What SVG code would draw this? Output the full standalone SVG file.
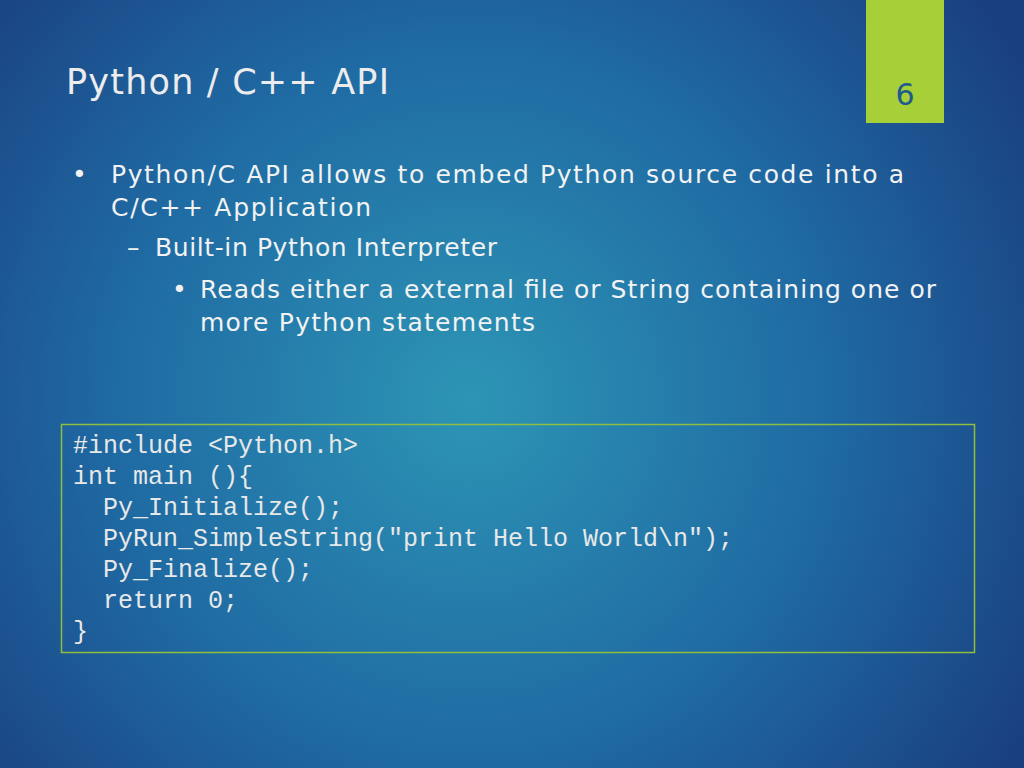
<svg xmlns="http://www.w3.org/2000/svg" width="1024" height="768" viewBox="0 0 1024 768">
<defs>
<radialGradient id="bg" cx="470" cy="400" r="650" gradientUnits="userSpaceOnUse">
<stop offset="0" stop-color="#2d95b5"/>
<stop offset="0.55" stop-color="#1f6aa3"/>
<stop offset="1" stop-color="#1a3f80"/>
</radialGradient>
<style>
.t{font-family:"DejaVu Sans","Liberation Sans",sans-serif;fill:#f2f2f2;font-size:25px}
.c{font-family:"Liberation Mono","Courier New",monospace;fill:#e8e8e8;font-size:25px}
</style>
</defs>
<rect width="1024" height="768" fill="url(#bg)"/>
<rect x="866" y="0" width="78" height="123" fill="#a6cf38"/>
<text x="905" y="105" text-anchor="middle" font-family="DejaVu Sans,sans-serif" font-size="30" fill="#1f5a8f">6</text>
<text x="66" y="94" font-family="DejaVu Sans,sans-serif" font-size="35" fill="#ececec" textLength="323">Python / C++ API</text>
<text class="t" x="72" y="183">•</text>
<text class="t" x="111" y="183" textLength="793">Python/C API allows to embed Python source code into a</text>
<text class="t" x="111" y="216" textLength="260">C/C++ Application</text>
<text class="t" x="127" y="256">–</text>
<text class="t" x="155" y="256" textLength="342">Built-in Python Interpreter</text>
<text class="t" x="172" y="298" font-size="20">•</text>
<text class="t" x="200" y="298" textLength="736">Reads either a external file or String containing one or</text>
<text class="t" x="200" y="331" textLength="335">more Python statements</text>
<rect x="61.5" y="424.5" width="913" height="228" fill="none" stroke="#8fbf3c" stroke-width="1.5"/>
<g>
<text class="c" x="73" y="453">#include &lt;Python.h&gt;</text>
<text class="c" x="73" y="484">int main (){</text>
<text class="c" x="73" y="515" xml:space="preserve">  Py_Initialize();</text>
<text class="c" x="73" y="546" xml:space="preserve">  PyRun_SimpleString("print Hello World\n");</text>
<text class="c" x="73" y="577" xml:space="preserve">  Py_Finalize();</text>
<text class="c" x="73" y="608" xml:space="preserve">  return 0;</text>
<text class="c" x="73" y="639">}</text>
</g>
</svg>
